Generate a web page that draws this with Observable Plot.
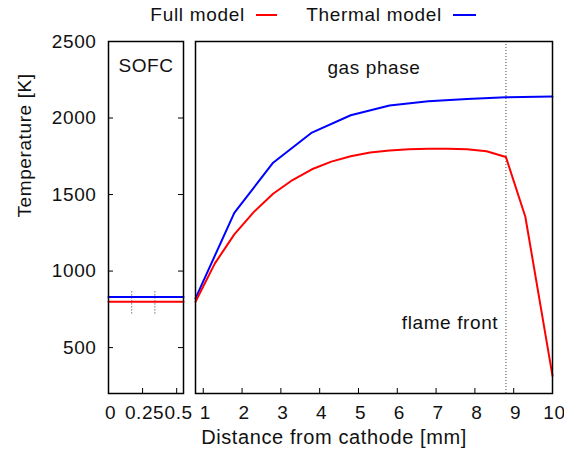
<!DOCTYPE html>
<html>
<head>
<meta charset="utf-8">
<script src="https://cdn.jsdelivr.net/npm/d3@7"></script>
<script src="https://cdn.jsdelivr.net/npm/@observablehq/plot@0.6"></script>
<style>
  html, body { margin: 0; padding: 0; background: #fff; }
  #wrap { position: relative; width: 564px; height: 457px; overflow: hidden; font-family: "Liberation Sans", Arial, sans-serif; color: #111; background: #fff; }
  #wrap > div.panel { position: absolute; top: 0; z-index: 1; }
  .leg { position: absolute; top: 3px; font-size: 19px; letter-spacing: 0.7px; white-space: nowrap; line-height: 24px; z-index: 5; }
  .legline { position: absolute; height: 2px; top: 14px; z-index: 5; }
</style>
</head>
<body>
<div id="wrap">
  <div class="panel" id="left" style="left:0"></div>
  <div class="panel" id="right" style="left:190px"></div>
  <div class="leg" id="legFull" style="right:319px">Full model</div>
  <div class="legline" style="left:256px;width:21px;background:#ff0000"></div>
  <div class="leg" id="legTherm" style="right:122px">Thermal model</div>
  <div class="legline" style="left:453px;width:23px;background:#0000ff"></div>
</div>
<script>
// ---- Data ----
const yTicks = [500, 1000, 1500, 2000, 2500];
const sofcTicks = [0, 0.25, 0.5];
const gasTicks = [1, 2, 3, 4, 5, 6, 7, 8, 9, 10];

// SOFC region (constant temperatures)
const sofcX = [0, 0.55];
const sofcFull = [800, 800];
const sofcThermal = [830, 830];
const sofcLayerBounds = [0.17, 0.34];

// Gas phase – full model
const fullX = [0.8, 1.3, 1.8, 2.3, 2.8, 3.3, 3.8, 4.3, 4.8, 5.3, 5.8, 6.3, 6.8, 7.3, 7.8, 8.3, 8.8, 9.3, 10];
const fullT = [800, 1050, 1240, 1385, 1505, 1595, 1665, 1715, 1750, 1775, 1788, 1796, 1800, 1800, 1796, 1783, 1745, 1355, 315];

// Gas phase – thermal model
const thermX = [0.8, 1.8, 2.8, 3.8, 4.8, 5.8, 6.8, 7.8, 8.8, 10];
const thermT = [822, 1380, 1708, 1905, 2018, 2082, 2110, 2125, 2135, 2140];

const flameFront = [8.8];

// ---- Helpers ----
const H = 457, MT = 41, MB = 64;
const yDomain = [200, 2500];
const font = {fontFamily: "Liberation Sans, Arial, sans-serif", fontSize: "19px", letterSpacing: "0.6px", color: "#111", background: "transparent", overflow: "visible"};
const pts = (xs, ys) => xs.map((x, i) => ({x, y: ys[i]}));
const tickLenY = 5 / (352 / 2300);

// ---- Left panel (SOFC) ----
const leftXDomain = [0, 0.55];
const tickLenXL = 5 / (75 / 0.55);
const yInner = yTicks.filter(t => t < 2500);
const left = Plot.plot({
  width: 190, height: H,
  marginLeft: 108, marginRight: 7, marginTop: MT, marginBottom: MB,
  style: font,
  x: {domain: leftXDomain, axis: null},
  y: {domain: yDomain, axis: null},
  marks: [
    Plot.ruleX(sofcLayerBounds, {y1: 720, y2: 870, stroke: "#333", strokeDasharray: "1,2", strokeWidth: 1}),
    Plot.line(pts(sofcX, sofcThermal), {x: "x", y: "y", stroke: "#0000ff", strokeWidth: 2}),
    Plot.line(pts(sofcX, sofcFull), {x: "x", y: "y", stroke: "#ff0000", strokeWidth: 2}),
    Plot.ruleX(sofcTicks.filter(t => t > 0), {y1: yDomain[0], y2: yDomain[0] + tickLenY, stroke: "#000"}),
    Plot.ruleY(yInner, {x1: 0, x2: tickLenXL, stroke: "#000"}),
    Plot.ruleY(yInner, {x1: 0.55, x2: 0.55 - tickLenXL, stroke: "#000"}),
    Plot.axisY(yTicks, {anchor: "left", tickSize: 0, tickPadding: 12, label: null, tickFormat: d => String(d), fontSize: 19}),
    Plot.axisX(sofcTicks, {anchor: "bottom", tickSize: 0, tickPadding: 12, label: null, tickFormat: d => String(d), fontSize: 19, dx: 2}),
    Plot.text(["Temperature [K]"], {frameAnchor: "left", dx: -84, rotate: -90, fontSize: 19}),
    Plot.text(["SOFC"], {frameAnchor: "top", dy: 17, fontSize: 19}),
    Plot.frame({stroke: "#000", strokeWidth: 1.5})
  ]
});
document.getElementById("left").appendChild(left);

// ---- Right panel (gas phase) ----
const rightXDomain = [0.8, 10];
const right = Plot.plot({
  width: 374, height: H,
  marginLeft: 5, marginRight: 12, marginTop: MT, marginBottom: MB,
  style: font,
  x: {domain: rightXDomain, axis: null},
  y: {domain: yDomain, axis: null},
  marks: [
    Plot.ruleX(flameFront, {stroke: "#444", strokeDasharray: "1,2", strokeWidth: 1}),
    Plot.line(pts(thermX, thermT), {x: "x", y: "y", stroke: "#0000ff", strokeWidth: 2}),
    Plot.line(pts(fullX, fullT), {x: "x", y: "y", stroke: "#ff0000", strokeWidth: 2}),
    Plot.ruleX(gasTicks.filter(t => t < 10), {y1: yDomain[0], y2: yDomain[0] + tickLenY, stroke: "#000"}),
    Plot.axisX(gasTicks, {anchor: "bottom", tickSize: 0, tickPadding: 12, label: null, tickFormat: d => String(d), fontSize: 19, dx: 2}),
    Plot.text(["Distance from cathode [mm]"], {frameAnchor: "bottom", dy: 50, dx: -40, fontSize: 20}),
    Plot.text(["gas phase"], {frameAnchor: "top", dy: 19, fontSize: 19}),
    Plot.text(["flame front"], {x: [8.6], y: [663], textAnchor: "end", fontSize: 19}),
    Plot.frame({stroke: "#000", strokeWidth: 1.5})
  ]
});
document.getElementById("right").appendChild(right);
</script>
</body>
</html>
